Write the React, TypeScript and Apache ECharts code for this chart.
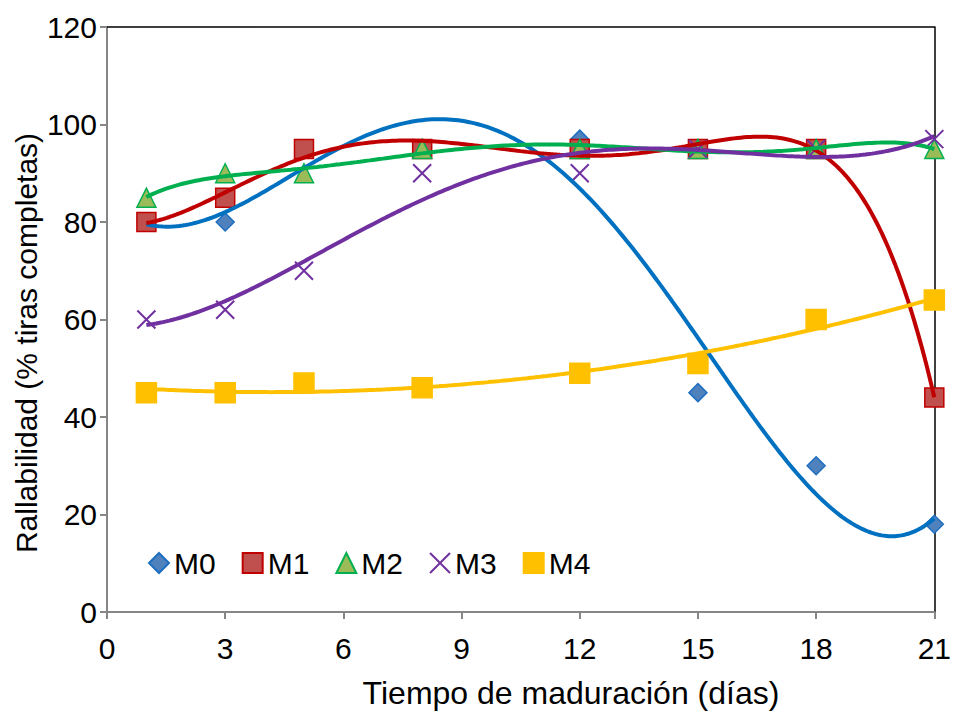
import React, { useEffect, useRef } from "react";
import * as echarts from "echarts";

// Días de maduración y rallabilidad (% tiras completas) por muestra
const days = [1, 3, 5, 8, 12, 15, 18, 21];
const seriesNames = ["M0", "M1", "M2", "M3", "M4"];
const m0 = [80, 80, 95, 95, 97, 45, 30, 18];
const m1 = [80, 85, 95, 95, 95, 95, 95, 44];
const m2 = [85, 90, 90, 95, 95, 95, 95, 95];
const m3 = [60, 62, 70, 90, 90, 95, 95, 97];
const m4 = [45, 45, 47, 46, 49, 51, 60, 64];
// Orden del polinomio de la línea de tendencia de cada muestra
const trendOrder = [4, 6, 6, 4, 2];

const xTicks = { min: 0, max: 21, interval: 3 };
const yTicks = { min: 0, max: 120, interval: 20 };

const FONT = "'Liberation Sans', Arial, sans-serif";

// Ajuste polinómico por mínimos cuadrados (x normalizado para estabilidad)
function polyFit(xs: number[], ys: number[], order: number) {
  const c = 11;
  const s = 10;
  const n = order + 1;
  const A: number[][] = Array.from({ length: n }, () => new Array(n + 1).fill(0));
  for (let k = 0; k < xs.length; k++) {
    const t = (xs[k] - c) / s;
    const pw: number[] = [];
    let p = 1;
    for (let i = 0; i < 2 * n; i++) {
      pw.push(p);
      p *= t;
    }
    for (let i = 0; i < n; i++) {
      for (let j = 0; j < n; j++) A[i][j] += pw[i + j];
      A[i][n] += pw[i] * ys[k];
    }
  }
  for (let col = 0; col < n; col++) {
    let piv = col;
    for (let r = col + 1; r < n; r++) if (Math.abs(A[r][col]) > Math.abs(A[piv][col])) piv = r;
    [A[col], A[piv]] = [A[piv], A[col]];
    for (let r = 0; r < n; r++) {
      if (r === col) continue;
      const f = A[r][col] / A[col][col];
      for (let j = col; j <= n; j++) A[r][j] -= f * A[col][j];
    }
  }
  const coef = A.map((row, i) => row[n] / row[i]);
  return (x: number) => {
    const t = (x - c) / s;
    let v = 0;
    let p = 1;
    for (let i = 0; i < n; i++) {
      v += coef[i] * p;
      p *= t;
    }
    return v;
  };
}

function trendPoints(vals: number[], order: number) {
  const f = polyFit(days, vals, order);
  const x0 = days[0];
  const x1 = days[days.length - 1];
  const steps = 240;
  const pts: number[][] = [];
  for (let i = 0; i <= steps; i++) {
    const x = x0 + ((x1 - x0) * i) / steps;
    pts.push([x, f(x)]);
  }
  return pts;
}

const X_MARK = "path://M0,0L10,10M10,0L0,10";

const styles = [
  { symbol: "diamond", size: 18, fill: "#4F81BD", border: "#1F6FC0", line: "#0070C0" },
  { symbol: "rect", size: 19, fill: "#C0504D", border: "#C00000", line: "#C00000" },
  { symbol: "triangle", size: 19, fill: "#9BBB59", border: "#00B050", line: "#00B050" },
  { symbol: X_MARK, size: 18, fill: "transparent", border: "#7030A0", line: "#7030A0" },
  { symbol: "rect", size: 20, fill: "#FFC000", border: "#FFC000", line: "#FFC000" },
];

export default function App() {
  const ref = useRef<HTMLDivElement>(null);

  useEffect(() => {
    if (!ref.current) return;
    const chart = echarts.init(ref.current, undefined, { renderer: "svg" });
    const data = [m0, m1, m2, m3, m4];

    const scatter = data.map((vals, i) => ({
      name: seriesNames[i],
      type: "scatter",
      data: days.map((d, k) => [d, vals[k]]),
      symbol: styles[i].symbol,
      symbolSize: styles[i].size,
      itemStyle: {
        color: styles[i].fill,
        borderColor: styles[i].border,
        borderWidth: i === 3 ? 2 : 1.5,
        opacity: 1,
      },
      z: 2 + i * 0.01,
    }));

    const trends = data.map((vals, i) => ({
      name: seriesNames[i] + " tendencia",
      type: "line",
      data: trendPoints(vals, trendOrder[i]),
      showSymbol: false,
      symbol: "none",
      lineStyle: { color: styles[i].line, width: 4 },
      z: 3 + i * 0.01,
      silent: true,
    }));

    chart.setOption({
      animation: false,
      backgroundColor: "#ffffff",
      grid: { left: 107, right: 18, top: 27, bottom: 101, containLabel: false },
      legend: {
        data: seriesNames,
        left: 143,
        top: 543,
        itemWidth: 20,
        itemHeight: 20,
        itemGap: 26,
        textStyle: { fontFamily: FONT, fontSize: 30, color: "#000" },
      },
      xAxis: [
        {
          type: "value",
          ...xTicks,
          position: "bottom",
          axisLine: { show: true, lineStyle: { color: "#868686", width: 2 } },
          axisTick: { show: true, inside: false, length: 7, lineStyle: { color: "#868686", width: 2 } },
          axisLabel: { fontFamily: FONT, fontSize: 30, color: "#000", margin: 21 },
          splitLine: { show: false },
        },
        {
          type: "value",
          ...xTicks,
          position: "top",
          axisLine: { show: true, onZero: false, lineStyle: { color: "#000", width: 1.5 } },
          axisTick: { show: false },
          axisLabel: { show: false },
          splitLine: { show: false },
        },
      ],
      yAxis: [
        {
          type: "value",
          ...yTicks,
          position: "left",
          axisLine: { show: true, lineStyle: { color: "#868686", width: 2 } },
          axisTick: { show: true, inside: false, length: 7, lineStyle: { color: "#868686", width: 2 } },
          axisLabel: { fontFamily: FONT, fontSize: 30, color: "#000", margin: 10 },
          splitLine: { show: false },
        },
        {
          type: "value",
          ...yTicks,
          position: "right",
          axisLine: { show: true, onZero: false, lineStyle: { color: "#000", width: 1.5 } },
          axisTick: { show: false },
          axisLabel: { show: false },
          splitLine: { show: false },
        },
      ],
      graphic: [
        {
          type: "text",
          x: 26,
          y: 343,
          rotation: Math.PI / 2,
          style: {
            text: "Rallabilidad (% tiras completas)",
            fontFamily: FONT,
            fontSize: 30,
            fill: "#000",
            textAlign: "center",
            textVerticalAlign: "middle",
          },
          z: 10,
        },
        {
          type: "text",
          x: 571,
          y: 693,
          style: {
            text: "Tiempo de maduración (días)",
            fontFamily: FONT,
            fontSize: 32,
            fill: "#000",
            textAlign: "center",
            textVerticalAlign: "middle",
          },
          z: 10,
        },
      ],
      series: [...scatter, ...trends],
    });

    return () => chart.dispose();
  }, []);

  return (
    <div
      ref={ref}
      style={{ position: "fixed", left: 0, top: 0, width: 954, height: 713 }}
    />
  );
}
